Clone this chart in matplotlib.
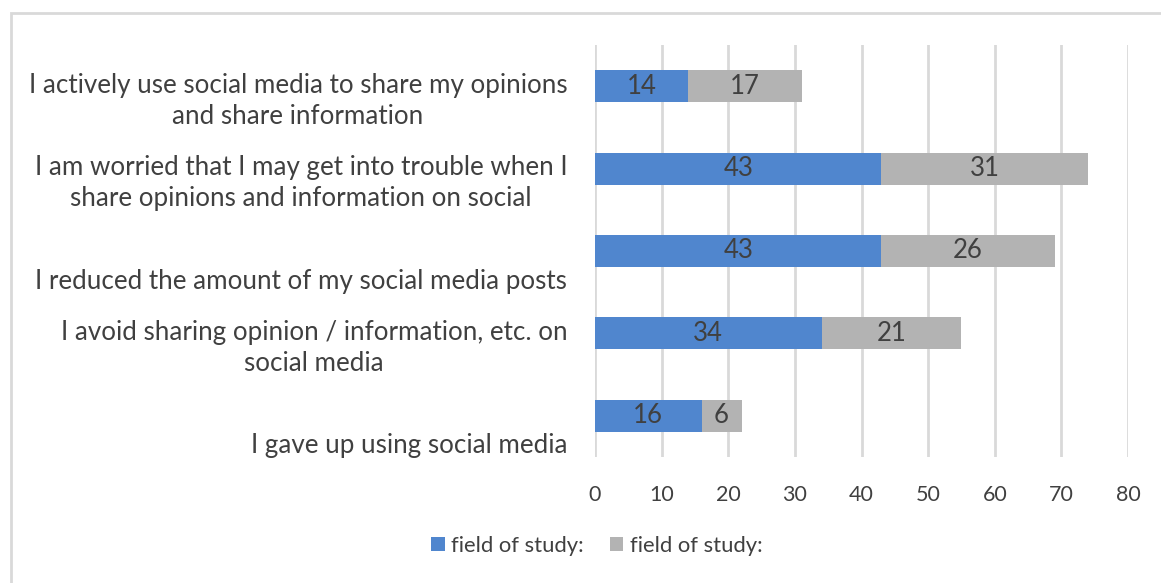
import matplotlib.pyplot as plt
from matplotlib.patches import Rectangle
import matplotlib.transforms as mtransforms

plt.rcParams['font.family'] = ['Lato', 'DejaVu Sans']

statements = [
    'I actively use social media to share my opinions\nand share information',
    'I am worried that I may get into trouble when I\nshare opinions and information on social',
    '\nI reduced the amount of my social media posts',
    'I avoid sharing opinion / information, etc. on\nsocial media',
    '\nI gave up using social media',
]
field_a = [14, 43, 43, 34, 16]
field_b = [17, 31, 26, 21, 6]
series_names = ['field of study:', 'field of study:']
xticks = [0, 10, 20, 30, 40, 50, 60, 70, 80]

blue = '#5086CE'
gray = '#B3B3B3'
txt = '#404040'

fig = plt.figure(figsize=(11.61, 5.83), dpi=100)
# light frame around the chart area
fig.patches.append(Rectangle((11 / 1161, -0.1), 1.2, 1 - 13 / 583 + 0.1,
                             transform=fig.transFigure, fill=False,
                             edgecolor='#D9D9D9', linewidth=2))

ax = fig.add_axes([595 / 1161, 1 - 457 / 583, (1128 - 595) / 1161, 412 / 583])
pos = list(range(len(statements)))
ax.barh(pos, field_a, height=0.39, color=blue, label=series_names[0])
ax.barh(pos, field_b, left=field_a, height=0.39, color=gray, label=series_names[1])

for y, a, b in zip(pos, field_a, field_b):
    ax.text(a / 2, y, str(a), ha='center', va='center', fontsize=18.5, color=txt)
    ax.text(a + b / 2, y, str(b), ha='center', va='center', fontsize=18.5, color=txt)

ax.set_xlim(0, 80)
ax.set_ylim(len(statements) - 0.5, -0.5)
ax.set_xticks(xticks)
ax.set_xticklabels([str(t) for t in xticks], fontsize=15.5, color=txt)
ax.set_yticks(pos)
ax.set_yticklabels(statements, fontsize=18.7, color=txt, linespacing=1.3,
                   multialignment='center')
ax.tick_params(length=0)
ax.tick_params(axis='x', pad=20)
ax.tick_params(axis='y', pad=20)
shift = mtransforms.ScaledTranslation(0, -9 / 100, fig.dpi_scale_trans)
for lab in ax.get_yticklabels():
    lab.set_transform(lab.get_transform() + shift)
ax.grid(axis='x', color='#D9D9D9', linewidth=2)
ax.set_axisbelow(True)
for s in ax.spines.values():
    s.set_visible(False)

fig.legend(loc='center', bbox_to_anchor=(597 / 1161, 1 - 546 / 583), ncol=2,
           frameon=False, fontsize=15.8, labelcolor=txt, handlelength=0.6,
           handleheight=0.6, handletextpad=0.3, columnspacing=1.2)

fig.savefig('out.png', dpi=100)
